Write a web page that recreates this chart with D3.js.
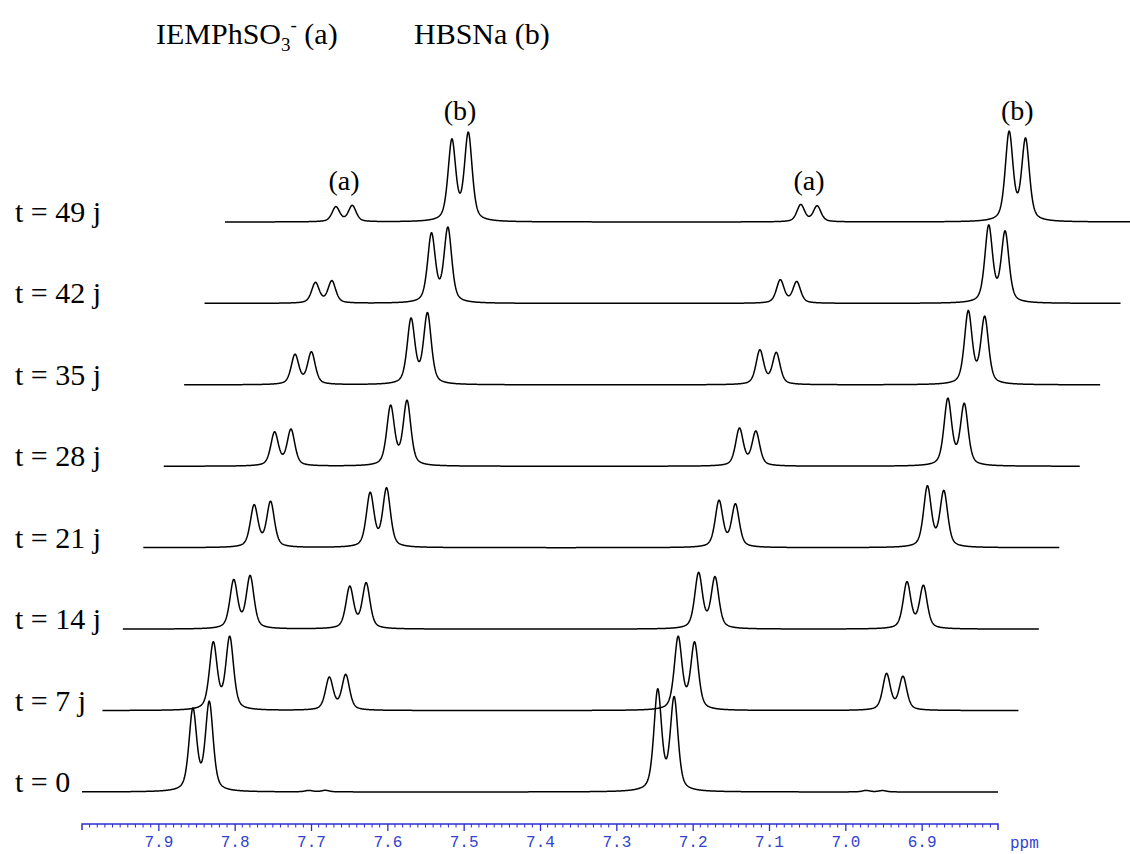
<!DOCTYPE html>
<html><head><meta charset="utf-8">
<script src="https://cdn.jsdelivr.net/npm/d3@7"></script>
<style>body{margin:0;background:#fff}svg{display:block}</style>
</head><body>
<svg id="chart" width="1130" height="854"></svg>
<script>
// ---- data ----
const times = ["t = 0", "t = 7 j", "t = 14 j", "t = 21 j", "t = 28 j", "t = 35 j", "t = 42 j", "t = 49 j"];
// doublet centres (ppm) for compound (a) IEMPhSO3- and (b) HBSNa
const aShifts = [7.844, 7.235];
const bShifts = [7.692, 6.962];
const couplingJ = 0.0215;       // doublet splitting, ppm
const lineHWHM = 0.006;         // half width, ppm
// peak heights (inner line of each doublet) per spectrum, arbitrary units
const aLowFieldHeights  = [88, 72, 52, 45, 36, 32, 22, 16];
const aHighFieldHeights = [100, 72, 55, 46, 37, 34, 23, 17];
const bLowFieldHeights  = [1.5, 35, 45, 58, 64, 70, 74, 87];
const bHighFieldHeights = [1.5, 36, 46, 60, 66, 72, 76, 88];
const roofRatio = 0.92;         // outer/inner line ratio
const ppmTicks = [7.9, 7.8, 7.7, 7.6, 7.5, 7.4, 7.3, 7.2, 7.1, 7.0, 6.9];
const ppmDomain = [8.0, 6.8];

// ---- layout ----
const svg = d3.select("#chart");
const serif = "Liberation Serif, Times New Roman, serif";
const mono = "Liberation Mono, Courier New, monospace";
const x = d3.scaleLinear().domain(ppmDomain).range([82, 998]);
const baseY = d3.scalePoint().domain(times).range([792, 222]);
const shiftX = d3.scalePoint().domain(times).range([0, 143]);
const hScale = d3.scaleLinear().domain([0, 100]).range([0, 100]);

function shape(ppm, c) {
  const u = (ppm - c) / lineHWHM;
  const L = 1 / (1 + u * u);
  const G = Math.exp(-Math.LN2 * u * u);
  return 0.5 * L + 0.5 * G;
}
function doublet(ppm, centre, hInner, innerIsUpfield) {
  const hi = centre - couplingJ / 2, lo = centre + couplingJ / 2;
  const hUp = innerIsUpfield ? hInner : hInner * roofRatio;
  const hDown = innerIsUpfield ? hInner * roofRatio : hInner;
  return hDown * shape(ppm, lo) + hUp * shape(ppm, hi);
}

const grid = d3.range(ppmDomain[0], ppmDomain[1] - 1e-9, -0.0005);

times.forEach((t, i) => {
  const pts = grid.map(p => {
    let v = 0;
    v += doublet(p, aShifts[0], aLowFieldHeights[i], true);
    v += doublet(p, aShifts[1], aHighFieldHeights[i], false);
    v += doublet(p, bShifts[0], bLowFieldHeights[i], true);
    v += doublet(p, bShifts[1], bHighFieldHeights[i], false);
    return [p, v];
  });
  const line = d3.line()
    .x(d => x(d[0]) + shiftX(t))
    .y(d => baseY(t) - hScale(d[1]));
  svg.append("path").attr("d", line(pts))
    .attr("fill", "none").attr("stroke", "#000").attr("stroke-width", 1.5)
    .attr("stroke-linejoin", "round");
  svg.append("text").attr("x", 15).attr("y", baseY(t))
    .attr("font-family", serif).attr("font-size", 30).attr("fill", "#000").text(t);
});

// peak labels on the top spectrum
const last = times[times.length - 1];
[[aShifts[0], "(a)", 190], [aShifts[1], "(a)", 190], [bShifts[0], "(b)", 120], [bShifts[1], "(b)", 120]]
  .forEach(([p, s, yy]) => {
    svg.append("text").attr("x", x(p) + shiftX(last)).attr("y", yy)
      .attr("text-anchor", "middle").attr("font-family", serif).attr("font-size", 28).text(s);
  });

// title
const title = svg.append("text").attr("x", 156).attr("y", 44)
  .attr("font-family", serif).attr("font-size", 30);
title.append("tspan").text("IEMPhSO");
title.append("tspan").attr("font-size", 19).attr("dy", 7).text("3");
title.append("tspan").attr("font-size", 19).attr("dy", -20).text("-");
title.append("tspan").attr("dy", 13).text(" (a)");
svg.append("text").attr("x", 414).attr("y", 44)
  .attr("font-family", serif).attr("font-size", 30).text("HBSNa (b)");

// ppm axis
const axisColor = "#2d2dd2";
const axisG = svg.append("g").attr("transform", "translate(0,824)");
const axis = d3.axisBottom(x).tickValues(ppmTicks).tickSize(7).tickPadding(5).tickFormat(d3.format(".1f"));
axisG.call(axis);
axisG.select(".domain").attr("stroke", axisColor).attr("stroke-width", 1.5)
  .attr("d", `M${x(8.0)},6V0H${x(6.8)}V6`);
axisG.selectAll(".tick line").attr("stroke", axisColor).attr("stroke-width", 1.3);
axisG.selectAll(".tick text").attr("fill", "#3344cc")
  .attr("font-family", mono).attr("font-size", 16);
const minorTicks = d3.range(0, 121).map(k => 8.0 - k * 0.01)
  .filter(v => Math.abs(Math.round(v * 10) - v * 10) > 1e-6);
axisG.selectAll("line.minor").data(minorTicks).enter().append("line")
  .attr("class", "minor").attr("x1", d => x(d)).attr("x2", d => x(d))
  .attr("y1", 0).attr("y2", 3.5).attr("stroke", axisColor).attr("stroke-width", 1);
svg.append("text").attr("x", 1010).attr("y", 848)
  .attr("font-family", mono).attr("font-size", 16)
  .attr("fill", "#3344cc").text("ppm");
</script>
</body></html>
